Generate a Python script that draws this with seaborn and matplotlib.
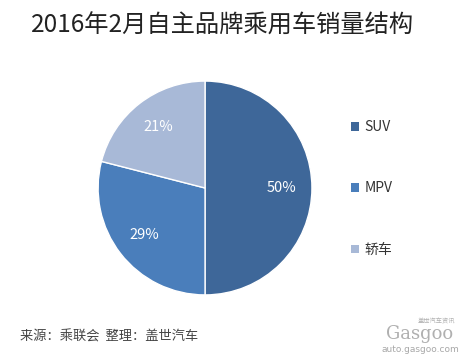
import matplotlib
matplotlib.use("Agg")
import matplotlib.pyplot as plt
import seaborn as sns
from matplotlib.patches import Patch

# 2016年2月自主品牌乘用车销量结构
categories = ["SUV", "MPV", "轿车"]
shares = [50, 29, 21]
colors = ["#3E6799", "#4A7EBB", "#A8B9D7"]

sns.set_theme(style="white")
plt.rcParams["font.family"] = ["Noto Sans CJK SC", "DejaVu Sans"]

fig = plt.figure(figsize=(4.6, 3.57), dpi=100)
fig.patch.set_facecolor("white")

ax = fig.add_axes([0.2109, 0.1709, 0.4696, 0.605])
wedges, texts, autotexts = ax.pie(
    shares, colors=colors, startangle=90, counterclock=False,
    autopct="%d%%", pctdistance=0.72,
    wedgeprops=dict(edgecolor="white", linewidth=1.0),
    textprops=dict(color="white", fontsize=10.5),
)
ax.set_xlim(-1.01, 1.01)
ax.set_ylim(-1.01, 1.01)
ax.set_aspect("equal")

handles = [Patch(facecolor=c, edgecolor="none") for c in colors]
fig.legend(handles, categories, loc="center left",
           bbox_to_anchor=(0.748, 0.472), frameon=False,
           fontsize=10, labelspacing=3.4, handlelength=0.55,
           handleheight=0.55, handletextpad=0.4, borderpad=0,
           labelcolor="#333333")

fig.text(31 / 460, 1 - 26 / 357, "2016年2月自主品牌乘用车销量结构",
         fontsize=17.5, color="#222222", ha="left", va="center")

fig.text(20 / 460, 1 - 337 / 357, "来源：乘联会  整理：盖世汽车",
         fontsize=9.5, color="#444444", ha="left", va="center", style="italic")

# logo
fig.text(420 / 460, 1 - 334 / 357, "Gasgoo", fontsize=13, color="#b0b0b0",
         ha="center", va="center", family="DejaVu Serif")
fig.text(436 / 460, 1 - 322 / 357, "盖世汽车资讯", fontsize=4.5, color="#b0b0b0",
         ha="center", va="center")
fig.text(420 / 460, 1 - 350 / 357, "auto.gasgoo.com", fontsize=6.5,
         color="#a8a8a8", ha="center", va="center", family="DejaVu Sans")

fig.savefig("out.png", dpi=100, facecolor="white")
